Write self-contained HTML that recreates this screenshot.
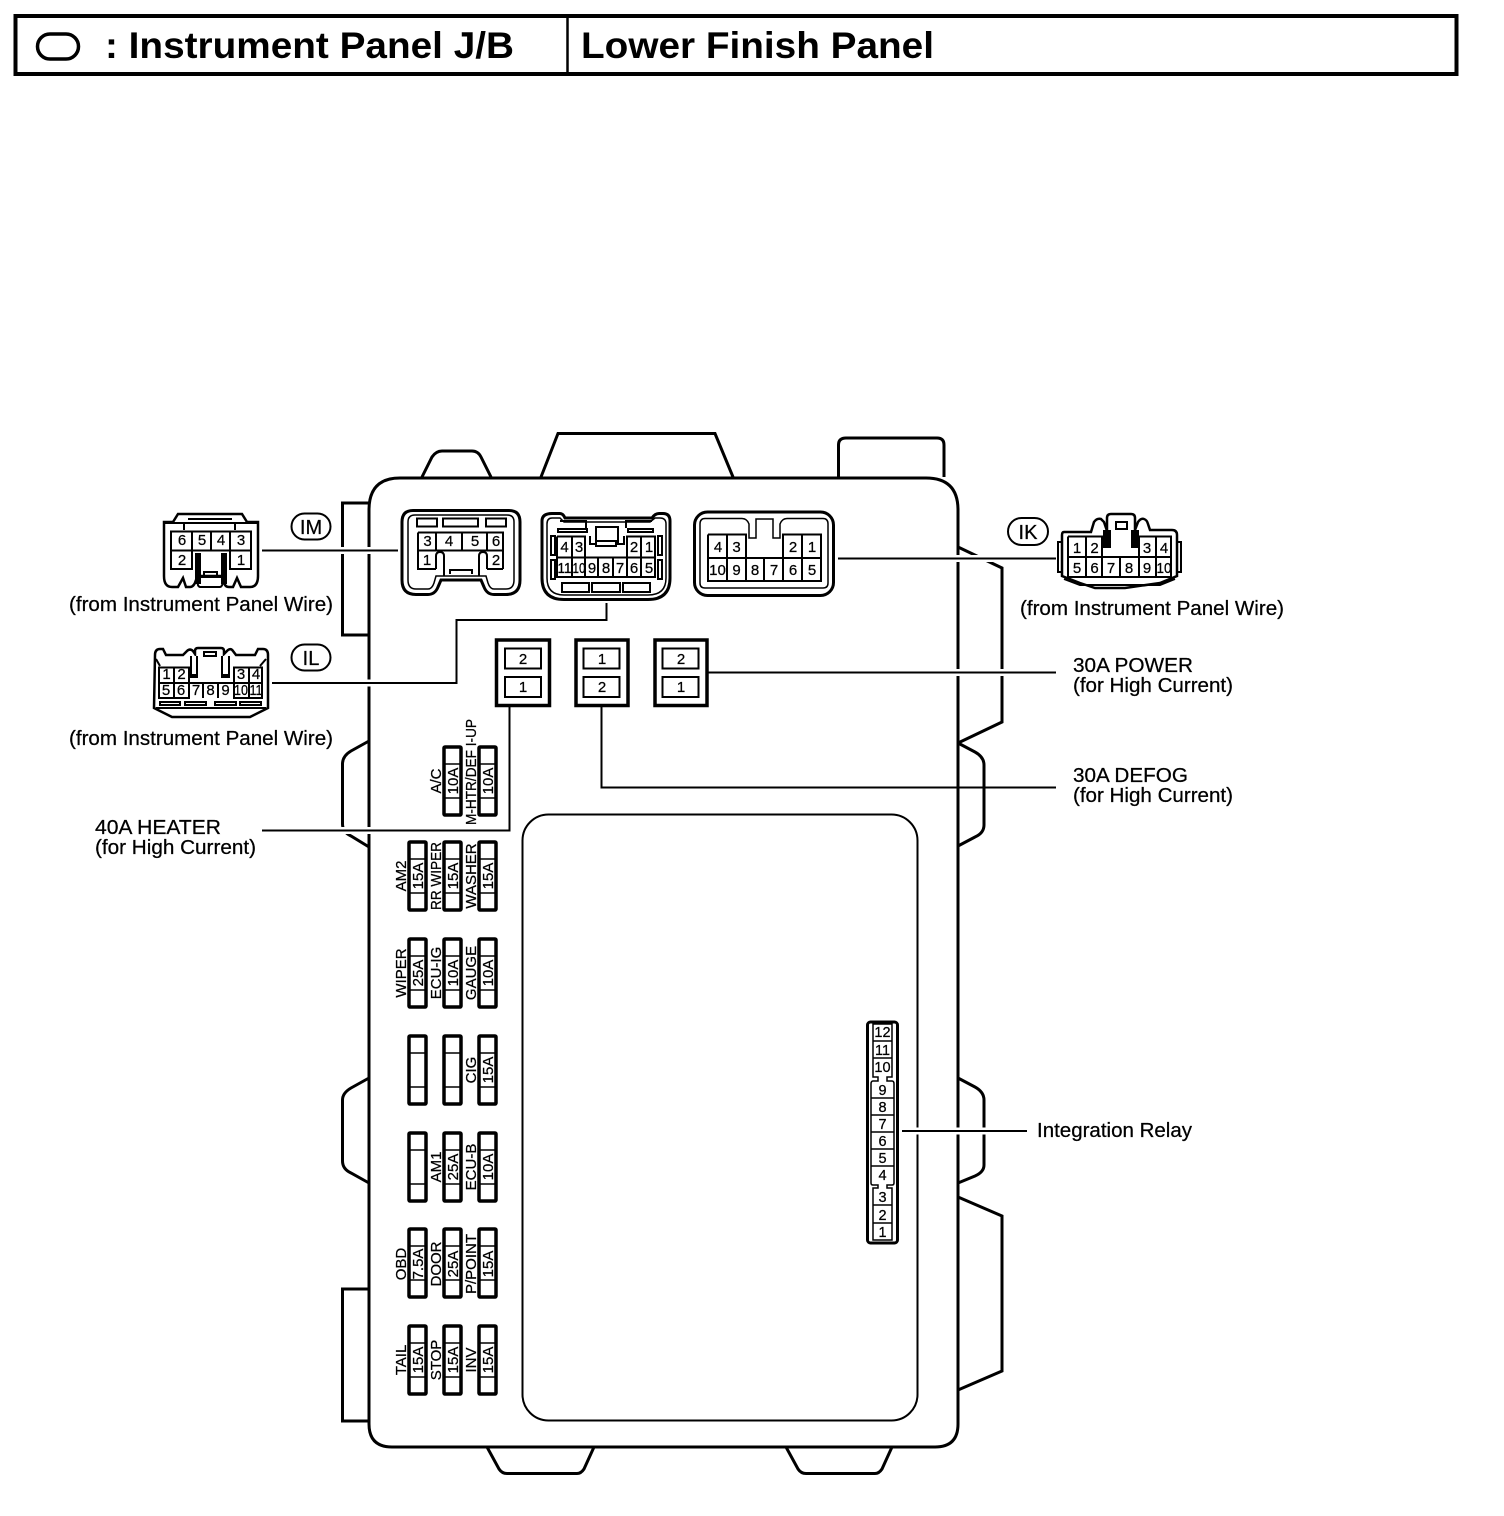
<!DOCTYPE html>
<html><head><meta charset="utf-8"><style>
html,body{margin:0;padding:0;background:#fff}
svg{display:block}
text{font-family:"Liberation Sans",sans-serif;fill:#000}
.d{font-size:15px;text-anchor:middle;stroke:#000;stroke-width:.25}
.l{font-size:20px;stroke:#000;stroke-width:.25}
.f{font-size:15px;text-anchor:middle}
.f text{stroke:#000;stroke-width:.25}
.t{font-size:37px;font-weight:bold}
.k{fill:none;stroke:#000;stroke-width:3}
.m{fill:none;stroke:#000;stroke-width:2}
.n{fill:none;stroke:#000;stroke-width:1.5}
.h{fill:none;stroke:#fff;stroke-width:7}
.s{fill:#000;stroke:none}
</style></head><body>
<svg xmlns="http://www.w3.org/2000/svg" width="1504" height="1516" viewBox="0 0 1504 1516">
<defs>
<g id="fu"><rect x="0" y="0" width="17" height="68" fill="#fff" stroke="#000" stroke-width="3.5" rx="1"/><path d="M0 17H17M0 51H17" stroke="#000" stroke-width="1.5"/></g>
</defs>
<rect width="1504" height="1516" fill="#fff"/>

<!-- header -->
<rect x="15.500" y="16" width="1441" height="58" fill="none" stroke="#000" stroke-width="4"/>
<path d="M567.500 16V74" stroke="#000" stroke-width="2.500"/>
<rect x="37.500" y="34" width="41" height="25" rx="12.500" class="k" style="stroke-width:3.500"/>
<text x="105" y="58" class="t" textLength="409" lengthAdjust="spacingAndGlyphs">: Instrument Panel J/B</text>
<text x="581" y="58" class="t" textLength="353" lengthAdjust="spacingAndGlyphs">Lower Finish Panel</text>

<!-- housing tabs -->
<g class="k">
<path d="M422 477L432 457Q436 451 442 451H472Q478 451 481 457L491 477"/>
<path d="M541 477L558 433.500H715L733 477"/>
<path d="M838.500 477V445Q838.500 438 846 438H937Q944 438 944 445V477"/>
<path d="M369 503H342.500V635H369"/>
<path d="M369 741L351 751Q342.500 756 342.500 764V824Q342.500 832 351 836L369 847"/>
<path d="M369 1078L351 1088Q342.500 1093 342.500 1100V1161Q342.500 1169 351 1173L369 1183"/>
<path d="M369 1289H342.500V1421H369"/>
<path d="M958 547L1002 568V722L958 743"/>
<path d="M958 743L975 752Q984 757 984 765V825Q984 833 975 837L958 846"/>
<path d="M958 1078L975 1087Q984 1092 984 1100V1165Q984 1172 975 1176L958 1183"/>
<path d="M958 1197L1002 1216V1371L958 1390"/>
<path d="M487 1447L499 1469Q502 1473.500 507 1473.500H577Q581 1473.500 584 1469L594 1447"/>
<path d="M786 1447L798 1469Q801 1473.500 806 1473.500H875Q879 1473.500 882 1469L892 1447"/>
</g>
<path d="M400 478H926Q958 478 958 510V1424Q958 1447 935 1447H392Q369 1447 369 1424V510Q369 478 400 478Z" fill="#fff" stroke="#000" stroke-width="3"/>
<rect x="522.500" y="814.500" width="395" height="606" rx="26" class="m"/>

<!-- leader lines -->
<g class="h">
<path d="M340 550.500H399"/><path d="M340 683H456.500V620.500"/>
<path d="M940 558.500H1056"/><path d="M940 672.500H1020"/>
<path d="M340 830.500H510"/><path d="M900 1131H1000"/>
</g>
<g class="m">
<path d="M262 550.500H398"/>
<path d="M272 683H456.500V620H606.500V603"/>
<path d="M838 558.500H1056"/>
<path d="M707 672.500H1056"/>
<path d="M601.500 706V787.500H1056"/>
<path d="M509.500 707V830.500H262"/>
<path d="M902 1131H1027"/>
</g>

<!-- IM socket -->
<path d="M413 510.500H509Q520 510.500 520 522V580Q520 594.500 506 594.500H494Q487 594.500 484 587L481 580H441L438 587Q435 594.500 428 594.500H416Q402 594.500 402 580V522Q402 510.500 413 510.500Z" fill="#fff" stroke="#000" stroke-width="3"/>
<path d="M415 515H507Q514 515 514 522V580Q514 589 506 589H494Q490 589 488 583L486 576H436L434 583Q432 589 428 589H416Q408 589 408 580V522Q408 515 415 515Z" class="n"/>
<g class="m">
<rect x="417" y="518.500" width="20" height="8"/><rect x="443" y="518.500" width="35" height="8"/><rect x="486" y="518.500" width="20" height="8"/>
<path d="M418 532.500H503V569M418 532.500V569H436M487 569H503M418 550.500H503M436 532.500V550.500M462 532.500V550.500M487 532.500V550.500"/>
<path d="M436 569V556Q436 552 440 552Q444 552 444 556V576M487 569V556Q487 552 483 552Q479 552 479 556V576M450 574V570H472V574" />
</g>
<text x="427.500" y="546" class="d">3</text><text x="449" y="546" class="d">4</text><text x="475" y="546" class="d">5</text><text x="496" y="546" class="d">6</text>
<text x="427" y="565" class="d">1</text><text x="496" y="565" class="d">2</text>

<!-- IL socket -->
<path d="M552 513.500H560Q563 513.500 565 518H652Q655 513.500 659 513.500H663Q670 513.500 670 521V578Q670 599.500 648 599.500H564Q542 599.500 542 578V521Q542 513.500 552 513.500Z" fill="#fff" stroke="#000" stroke-width="3"/>
<path d="M552 518H560L564 522H650L655 518H660Q666 518 666 524V578Q666 595 648 595H564Q547 595 547 578V524Q547 518 552 518Z" class="n"/>
<g class="m">
<path d="M557 536.500H585V577M557 536.500V577H655V536.500H627V577M585 557.500H627M557 557.500H655M572 536.500V577M598 557.500V577M613 557.500V577M641 536.500V577"/>
<path d="M590 536V544H596V527H618V544H624V536" />
<rect x="596" y="541" width="20" height="5"/>
<rect x="558" y="529" width="29" height="3"/><rect x="628" y="529" width="25" height="3"/>
<rect x="562" y="583" width="27" height="9"/><rect x="592" y="583" width="28" height="9"/><rect x="623" y="583" width="27" height="9"/>
<rect x="551" y="536" width="4" height="19"/><rect x="551" y="560" width="4" height="19"/><rect x="658" y="536" width="4" height="19"/><rect x="658" y="560" width="4" height="19"/>
<path d="M586 528V521H560M626 528V521H652"/>
</g>
<text x="564.500" y="552" class="d">4</text><text x="579" y="552" class="d">3</text><text x="634" y="552" class="d">2</text><text x="649" y="552" class="d">1</text>
<text x="564.500" y="573" class="d" textLength="14" lengthAdjust="spacingAndGlyphs">11</text><text x="579" y="573" class="d" textLength="13" lengthAdjust="spacingAndGlyphs">10</text><text x="592" y="573" class="d">9</text><text x="606" y="573" class="d">8</text><text x="620" y="573" class="d">7</text><text x="634" y="573" class="d">6</text><text x="649" y="573" class="d">5</text>

<!-- IK socket -->
<rect x="694.500" y="512" width="139" height="83.500" rx="13" fill="#fff" stroke="#000" stroke-width="3"/>
<path d="M705 518.500H742Q747 518.500 749 524V538H756V519H773V538H780V524Q782 518.500 787 518.500H823Q828 518.500 828 524V583Q828 588 823 588H705Q700 588 700 583V524Q700 518.500 705 518.500Z" class="n"/>
<g class="m">
<path d="M708 534.500H746V581M708 534.500V581H821V534.500H783V581M708 558H821M727 534.500V581M764 558V581M802 534.500V581"/>
</g>
<text x="718" y="552" class="d">4</text><text x="736.500" y="552" class="d">3</text><text x="793" y="552" class="d">2</text><text x="812" y="552" class="d">1</text>
<text x="717.500" y="575" class="d">10</text><text x="736.500" y="575" class="d">9</text><text x="755" y="575" class="d">8</text><text x="774" y="575" class="d">7</text><text x="793" y="575" class="d">6</text><text x="812" y="575" class="d">5</text>

<!-- relay boxes -->
<g fill="#fff" stroke="#000" stroke-width="3.500">
<rect x="496.500" y="640" width="53" height="65.500"/><rect x="576" y="640" width="52" height="65.500"/><rect x="655" y="640" width="52" height="65.500"/>
</g>
<g class="m" fill="#fff">
<rect x="505" y="648.500" width="36" height="20"/><rect x="505" y="677" width="36" height="20"/>
<rect x="583.500" y="648.500" width="36" height="20"/><rect x="583.500" y="677" width="36" height="20"/>
<rect x="662.500" y="648.500" width="36" height="20"/><rect x="662.500" y="677" width="36" height="20"/>
</g>
<text x="523" y="664" class="d">2</text><text x="523" y="692" class="d">1</text>
<text x="602" y="664" class="d">1</text><text x="602" y="692" class="d">2</text>
<text x="681" y="664" class="d">2</text><text x="681" y="692" class="d">1</text>
<path d="M509.500 707V720M601.500 704V714" stroke="#000" stroke-width="2"/>

<!-- IM plug -->
<g class="m">
<path d="M178 514H242L247 522H258V576Q258 587 250 587H241L237 578L233 587H229Q224 587 224 580L222 576H198L196 580Q194 587 190 587H186L183 578L178 587H172Q164 587 164 576V522H173Z" style="stroke-width:2.500"/>
<path d="M171 531.500H251V569H230V550.500H192V569H171ZM171 550.500H192M230 550.500H251M192 531.500V550.500M211 531.500V550.500M230 531.500V550.500"/>
<path d="M199 577H222Q224 586 220 587H200Q196 586 199 577ZM204 576V572H217V576M165 523H257M184 523V530M235 523V530M188 519H232"/>
</g>
<path d="M195 553H201V584H195ZM221 553H227V584H221Z" class="s"/>
<text x="182" y="545" class="d">6</text><text x="202" y="545" class="d">5</text><text x="221" y="545" class="d">4</text><text x="241" y="545" class="d">3</text>
<text x="182" y="565" class="d">2</text><text x="241" y="565" class="d">1</text>

<!-- IL plug -->
<g class="m">
<path d="M155 655Q155 649 160 649H163L166 655H183L187 651Q190 648 193 651L195 654V651Q195 648 198 648H221Q224 648 224 651V654L228 650Q231 648 233 651L236 655H255L258 649H263Q268 649 268 655V708L250 717H172L154 708Z" style="stroke-width:2.500"/>
<path d="M159 667.500H189V698H159ZM234 667.500H262V698H234ZM159 683H262M174 667.500V698M189 683V698M203 683V698M218 683V698M234 683V698M249 667.500V698"/>
<rect x="204" y="652" width="12" height="4"/>
<path d="M156 659L160 666M266 659L260 666M156 708H266"/>
<rect x="160" y="702" width="20" height="3"/><rect x="185" y="702" width="21" height="3"/><rect x="215" y="702" width="21" height="3"/><rect x="240" y="702" width="21" height="3"/>
</g>
<path d="M190 656H198V678H190ZM221 656H230V678H221Z" class="s"/>
<path d="M192 656H196V674H192ZM223 656H228V674H223Z" fill="#fff"/>
<text x="166.500" y="679" class="d">1</text><text x="181.500" y="679" class="d">2</text><text x="241" y="679" class="d">3</text><text x="256" y="679" class="d">4</text>
<text x="166" y="695" class="d">5</text><text x="181" y="695" class="d">6</text><text x="196" y="695" class="d">7</text><text x="210.500" y="695" class="d">8</text><text x="225.500" y="695" class="d">9</text><text x="241" y="695" class="d" textLength="14" lengthAdjust="spacingAndGlyphs">10</text><text x="256" y="695" class="d" textLength="13" lengthAdjust="spacingAndGlyphs">11</text>

<!-- IK plug -->
<g class="m">
<path d="M1064 532H1091L1094 522Q1097 518 1101 519L1104 522L1107 531V518Q1107 514 1111 514H1131Q1135 514 1135 518V530L1138 522Q1141 518 1144 519Q1147 520 1148 524L1150 530H1172Q1177 530 1177 535V576L1160 583L1125 588H1095L1080 583L1062 576V535Q1062 532 1064 532Z" style="stroke-width:2.500"/>
<path d="M1068 536.500H1102V577M1068 536.500V577H1171V536.500H1139V577M1068 557H1171M1086 536.500V577M1120 557V577M1156 536.500V577"/>
<path d="M1062 542H1058V572H1062M1177 542H1181V572H1177M1116 522H1127V529H1116ZM1064 579L1080 585H1160L1175 579"/>
</g>
<path d="M1103 530H1111V548H1103ZM1131 530H1139V548H1131Z" class="s"/>
<text x="1077" y="553" class="d">1</text><text x="1094.500" y="553" class="d">2</text><text x="1147" y="553" class="d">3</text><text x="1164" y="553" class="d">4</text>
<text x="1077" y="573" class="d">5</text><text x="1094.500" y="573" class="d">6</text><text x="1111" y="573" class="d">7</text><text x="1129" y="573" class="d">8</text><text x="1147" y="573" class="d">9</text><text x="1164" y="573" class="d" textLength="15" lengthAdjust="spacingAndGlyphs">10</text>

<!-- connector code ovals -->
<g class="m">
<rect x="291.500" y="513.500" width="39" height="26" rx="13"/>
<rect x="291.500" y="644.500" width="39" height="26" rx="13"/>
<rect x="1008" y="518" width="40" height="27" rx="13.500"/>
</g>
<text x="311" y="534" class="l" text-anchor="middle">IM</text>
<text x="311" y="665" class="l" text-anchor="middle">IL</text>
<text x="1028" y="539" class="l" text-anchor="middle">IK</text>

<!-- side labels -->
<text x="69" y="611" class="l" textLength="264" lengthAdjust="spacingAndGlyphs">(from Instrument Panel Wire)</text>
<text x="69" y="745" class="l" textLength="264" lengthAdjust="spacingAndGlyphs">(from Instrument Panel Wire)</text>
<text x="1020" y="615" class="l" textLength="264" lengthAdjust="spacingAndGlyphs">(from Instrument Panel Wire)</text>
<text x="1073" y="672" class="l" textLength="120" lengthAdjust="spacingAndGlyphs">30A POWER</text>
<text x="1073" y="692" class="l" textLength="160" lengthAdjust="spacingAndGlyphs">(for High Current)</text>
<text x="1073" y="782" class="l" textLength="115" lengthAdjust="spacingAndGlyphs">30A DEFOG</text>
<text x="1073" y="802" class="l" textLength="160" lengthAdjust="spacingAndGlyphs">(for High Current)</text>
<text x="95" y="834" class="l" textLength="126" lengthAdjust="spacingAndGlyphs">40A HEATER</text>
<text x="95" y="854" class="l" textLength="161" lengthAdjust="spacingAndGlyphs">(for High Current)</text>
<text x="1037" y="1137" class="l" textLength="155" lengthAdjust="spacingAndGlyphs">Integration Relay</text>

<!-- fuses -->
<use href="#fu" x="444" y="747"/><use href="#fu" x="479" y="747"/>
<use href="#fu" x="409" y="842"/><use href="#fu" x="444" y="842"/><use href="#fu" x="479" y="842"/>
<use href="#fu" x="409" y="939"/><use href="#fu" x="444" y="939"/><use href="#fu" x="479" y="939"/>
<use href="#fu" x="409" y="1036"/><use href="#fu" x="444" y="1036"/><use href="#fu" x="479" y="1036"/>
<use href="#fu" x="409" y="1133"/><use href="#fu" x="444" y="1133"/><use href="#fu" x="479" y="1133"/>
<use href="#fu" x="409" y="1229"/><use href="#fu" x="444" y="1229"/><use href="#fu" x="479" y="1229"/>
<use href="#fu" x="409" y="1326"/><use href="#fu" x="444" y="1326"/><use href="#fu" x="479" y="1326"/>

<g class="f">
<text transform="translate(441,781) rotate(-90)">A/C</text>
<text transform="translate(458,781) rotate(-90)">10A</text>
<text transform="translate(476,772) rotate(-90)" textLength="106" lengthAdjust="spacingAndGlyphs">M-HTR/DEF I-UP</text>
<text transform="translate(493,781) rotate(-90)">10A</text>

<text transform="translate(406,876) rotate(-90)">AM2</text>
<text transform="translate(423,876) rotate(-90)">15A</text>
<text transform="translate(441,876) rotate(-90)" textLength="68" lengthAdjust="spacingAndGlyphs">RR WIPER</text>
<text transform="translate(458,876) rotate(-90)">15A</text>
<text transform="translate(476,876) rotate(-90)">WASHER</text>
<text transform="translate(493,876) rotate(-90)">15A</text>

<text transform="translate(406,973) rotate(-90)">WIPER</text>
<text transform="translate(423,973) rotate(-90)">25A</text>
<text transform="translate(441,973) rotate(-90)">ECU-IG</text>
<text transform="translate(458,973) rotate(-90)">10A</text>
<text transform="translate(476,973) rotate(-90)">GAUGE</text>
<text transform="translate(493,973) rotate(-90)">10A</text>

<text transform="translate(476,1070) rotate(-90)">CIG</text>
<text transform="translate(493,1070) rotate(-90)">15A</text>

<text transform="translate(441,1167) rotate(-90)">AM1</text>
<text transform="translate(458,1167) rotate(-90)">25A</text>
<text transform="translate(476,1167) rotate(-90)">ECU-B</text>
<text transform="translate(493,1167) rotate(-90)">10A</text>

<text transform="translate(406,1264) rotate(-90)">OBD</text>
<text transform="translate(423,1264) rotate(-90)">7.5A</text>
<text transform="translate(441,1264) rotate(-90)">DOOR</text>
<text transform="translate(458,1264) rotate(-90)">25A</text>
<text transform="translate(476,1264) rotate(-90)">P/POINT</text>
<text transform="translate(493,1264) rotate(-90)">15A</text>

<text transform="translate(406,1360) rotate(-90)">TAIL</text>
<text transform="translate(423,1360) rotate(-90)">15A</text>
<text transform="translate(441,1360) rotate(-90)">STOP</text>
<text transform="translate(458,1360) rotate(-90)">15A</text>
<text transform="translate(476,1360) rotate(-90)">INV</text>
<text transform="translate(493,1360) rotate(-90)">15A</text>
</g>

<!-- integration relay -->
<rect x="867.500" y="1022" width="30" height="221" rx="3" fill="#fff" stroke="#000" stroke-width="3"/>
<path d="M873 1024H892V1077H887V1081H892Q894 1081 894 1084V1183Q894 1185 892 1185H887V1188H892V1240H873V1188H878V1185H873Q871 1185 871 1183V1084Q871 1081 873 1081H878V1077H873Z" class="n"/>
<path d="M873 1041H892M873 1058H892M871 1098H894M871 1115H894M871 1132H894M871 1149H894M871 1166H894M873 1205H892M873 1223H892" class="n"/>
<g class="d" style="font-size:14.5px">
<text x="882.500" y="1037">12</text><text x="882.500" y="1055">11</text><text x="882.500" y="1072">10</text>
<text x="882.500" y="1095">9</text><text x="882.500" y="1112">8</text><text x="882.500" y="1129">7</text><text x="882.500" y="1146">6</text><text x="882.500" y="1163">5</text><text x="882.500" y="1180">4</text>
<text x="882.500" y="1202">3</text><text x="882.500" y="1220">2</text><text x="882.500" y="1237">1</text>
</g>
</svg>
</body></html>
